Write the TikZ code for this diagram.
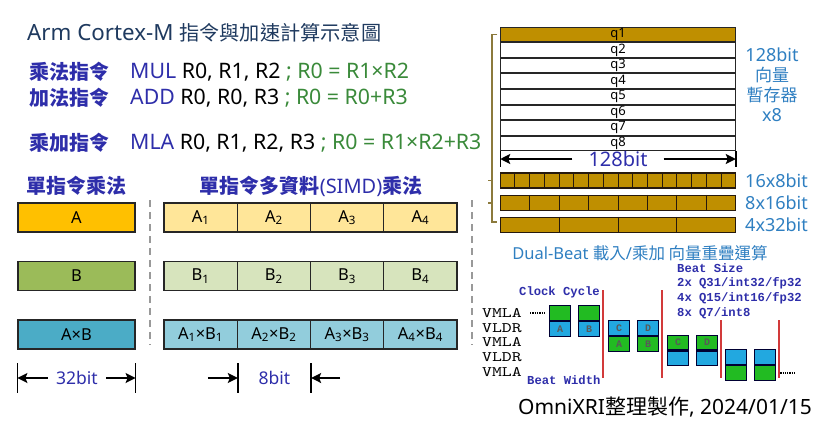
\documentclass[tikz,border=0pt]{standalone}
\usepackage{fontspec}
\setmainfont{Noto Sans}
\newfontfamily\cjk{Noto Sans CJK TC}
\newfontfamily\beatfont{Liberation Mono}
\newfontfamily\opfont{lmmono10-regular.otf}[FakeStretch=1.3]
\usetikzlibrary{positioning,arrows.meta,calc}

\definecolor{titleblue}{HTML}{1F3A5F}
\definecolor{opblue}{HTML}{2E2EAA}
\definecolor{eqgreen}{HTML}{3A8A3A}
\definecolor{steel}{HTML}{2F7FC1}
\definecolor{goldA}{HTML}{FFC000}
\definecolor{oliveB}{HTML}{9BBB59}
\definecolor{tealC}{HTML}{4BACC6}
\definecolor{lightA}{HTML}{FFE699}
\definecolor{lightB}{HTML}{D7E4BD}
\definecolor{lightC}{HTML}{92CDDC}
\definecolor{regfill}{HTML}{BF8F00}
\definecolor{bracketc}{HTML}{8C7A3C}
\definecolor{beatgreen}{HTML}{22BB22}
\definecolor{beatblue}{HTML}{22A8E0}
\definecolor{cyclered}{HTML}{D23A3A}

\begin{document}
\begin{tikzpicture}[x=1pt, y=-1pt,
  txt/.style={inner sep=0pt, anchor=west, font=\fontsize{21.3}{24}\selectfont},
  oplbl/.style={inner sep=0pt, anchor=west, text=opblue, font=\cjk\fontsize{20}{24}\selectfont\bfseries},
  head/.style={inner sep=0pt, text=opblue, font=\fontsize{20}{24}\selectfont\bfseries},
  cell/.style={draw=black!85, line width=1.2pt, inner sep=0pt, minimum height=29pt,
    font=\fontsize{16.5}{20}\selectfont},
  sep/.style={draw=black!40, line width=1.5pt, dash pattern=on 7pt off 5pt},
  tickl/.style={line width=1.5pt, black},
  dimarr/.style={-{Stealth[length=10pt, width=10pt, inset=2pt]}, line width=1.6pt, black},
  bitlbl/.style={inner sep=0pt, text=opblue, font=\fontsize{17.5}{22}\selectfont},
  qreg/.style={draw=black!85, line width=1pt, inner sep=0pt, minimum width=234.5pt,
    minimum height=14.6pt, font=\fontsize{13}{13}\selectfont},
  bar/.style={draw=black!80!brown, line width=1.2pt, fill=regfill, inner sep=0pt,
    minimum width=234.5pt, minimum height=15pt},
  barline/.style={draw=black!80!brown, line width=1pt},
  steellbl/.style={inner sep=0pt, text=steel, font=\fontsize{18}{22}\selectfont},
  beatcell/.style={draw=black!80!blue, line width=1.2pt, inner sep=0pt, minimum width=21pt,
    minimum height=14.7pt, text=black!65, font=\beatfont\fontsize{10}{10}\selectfont\bfseries},
  beatlbl/.style={inner sep=0pt, anchor=west, text=opblue,
    font=\beatfont\fontsize{12.2}{13}\selectfont\bfseries},
  opname/.style={inner sep=0pt, anchor=west, font=\opfont\fontsize{14.5}{14.5}\selectfont},
  clockline/.style={draw=cyclered, line width=1.5pt},
  dots/.style={line width=1.3pt, densely dotted}]
\useasboundingbox (0,0) rectangle (838,429);

% title and instructions
\node[inner sep=0pt, anchor=west, text=titleblue, font=\fontsize{22.3}{24}\selectfont] (title)
  at (27,33) {Arm Cortex-M {\cjk\fontsize{20.2}{24}\selectfont 指令與加速計算示意圖}};
\node[oplbl] (mulop) at (29,72) {乘法指令};
\node[txt] (mulcode) at (130,72) {\textcolor{opblue}{MUL} R0, R1, R2 \textcolor{eqgreen}{; R0 = R1×R2}};
\node[oplbl] (addop) at (29,98) {加法指令};
\node[txt] (addcode) at (130,98) {\textcolor{opblue}{ADD} R0, R0, R3 \textcolor{eqgreen}{; R0 = R0+R3}};
\node[oplbl] (mlaop) at (29,143) {乘加指令};
\node[txt] (mlacode) at (130,143) {\textcolor{opblue}{MLA} R0, R1, R2, R3 \textcolor{eqgreen}{; R0 = R1×R2+R3}};

% single multiply vs SIMD
\node[head] (h1) at (77,186) {\cjk 單指令乘法};
\node[head] (h2) at (311,186) {{\cjk 單指令多資料}(SIMD){\cjk 乘法}};
\node[cell, fill=goldA, minimum width=117pt] (a0) at (76.5,217.5) {A};
\node[cell, fill=oliveB, minimum width=117pt] (b0) at (76.5,276) {B};
\node[cell, fill=tealC, minimum width=117pt] (c0) at (76.5,334.5) {A×B};
\foreach \i/\cx in {1/200.6,2/273.9,3/347.1,4/420.4} {
  \node[cell, fill=lightA, minimum width=73.25pt] (a\i) at (\cx,217.5) {A\textsubscript{\i}};
  \node[cell, fill=lightB, minimum width=73.25pt] (b\i) at (\cx,276) {B\textsubscript{\i}};
  \node[cell, fill=lightC, minimum width=73.25pt] (c\i) at (\cx,334.5)
    {A\textsubscript{\i}×B\textsubscript{\i}};
}
\draw[sep] (150,200) -- (150,345);
\draw[sep] (472,200) -- (472,345);

% bit widths
\node[bitlbl] (w32) at (77,378) {32bit};
\node[bitlbl] (w8) at (274.5,378) {8bit};
\coordinate (t32l) at (a0.west |- w32);
\coordinate (t32r) at (a0.east |- w32);
\coordinate (t8l) at (a1.east |- w8);
\coordinate (t8r) at (a2.east |- w8);
\foreach \t in {t32l,t32r,t8l,t8r}
  \draw[tickl] ([yshift=15pt]\t) -- ([yshift=-15pt]\t);
\draw[dimarr] ([xshift=-8pt]w32.west) -- (t32l);
\draw[dimarr] ([xshift=8pt]w32.east) -- (t32r);
\draw[dimarr] ([xshift=-30pt]t8l) -- (t8l);
\draw[dimarr] ([xshift=29pt]t8r) -- (t8r);

% vector registers
\node[qreg, fill=regfill] (q1) at (618,34.3) {q1};
\foreach \i in {2,...,8}
  \node[qreg, below=0pt of q\the\numexpr\i-1\relax] (q\i) {q\i};
\node[bitlbl, font=\fontsize{20}{24}\selectfont] (w128) at (618,159) {128bit};
\coordinate (t128l) at (q8.west |- w128);
\coordinate (t128r) at (q8.east |- w128);
\foreach \t in {t128l,t128r}
  \draw[tickl] ([yshift=8pt]\t) -- ([yshift=-8pt]\t);
\draw[dimarr] ([xshift=-16pt]w128.west) -- (t128l);
\draw[dimarr] ([xshift=16pt]w128.east) -- (t128r);
\node[steellbl] (r1) at (772,55) {128bit};
\node[steellbl, font=\cjk\fontsize{17}{20}\selectfont] (r2) at (772,75) {向量};
\node[steellbl, font=\cjk\fontsize{17}{20}\selectfont] (r3) at (772,95) {暫存器};
\node[steellbl] (r4) at (772,115) {x8};

\node[bar] (b16) at (618,180.5) {};
\node[bar] (b8) at (618,203) {};
\node[bar] (b4) at (618,225) {};
\foreach \k in {1,...,15}
  \draw[barline] ($(b16.north west)!\k/16!(b16.north east)$) -- ($(b16.south west)!\k/16!(b16.south east)$);
\foreach \k in {1,...,7}
  \draw[barline] ($(b8.north west)!\k/8!(b8.north east)$) -- ($(b8.south west)!\k/8!(b8.south east)$);
\foreach \k in {1,...,3}
  \draw[barline] ($(b4.north west)!\k/4!(b4.north east)$) -- ($(b4.south west)!\k/4!(b4.south east)$);
\node[steellbl, anchor=west] (l16) at (745,181) {16x8bit};
\node[steellbl, anchor=west] (l8) at (745,203) {8x16bit};
\node[steellbl, anchor=west] (l4) at (745,225) {4x32bit};
\draw[bracketc, line width=1.5pt] ([xshift=-3pt]q1.west) -| (492,222) -- ([xshift=-3pt]b4.west |- 0,222);
\draw[bracketc, line width=1.5pt] (488,180.5) -- (492,180.5) (488,203) -- (492,203);

% dual-beat overlap
\node[inner sep=0pt, text=steel, font=\fontsize{16.5}{20}\selectfont] (dual) at (640,253)
  {Dual-Beat {\cjk 載入}/{\cjk 乘加 向量重疊運算}};
\node[beatlbl] (bsize) at (677,268) {Beat Size};
\node[beatlbl] (bs1) at (677,283) {2x Q31/int32/fp32};
\node[beatlbl] (bs2) at (677,298) {4x Q15/int16/fp32};
\node[beatlbl] (bs3) at (677,313) {8x Q7/int8};
\node[beatlbl] (clk) at (519,292) {Clock Cycle};
\node[beatlbl] (bw) at (527,380) {Beat Width};
\foreach \j/\op in {1/VMLA,2/VLDR,3/VMLA,4/VLDR,5/VMLA}
  \node[opname] (op\j) at (482,{313+14.7*(\j-1)}) {\op};
\foreach \n/\bx/\by/\tc/\tl/\bc/\bl in {1/549/305/beatgreen/{}/beatblue/A,
    2/578/305/beatgreen/{}/beatblue/B, 3/608/320/beatblue/C/beatgreen/A,
    4/637/320/beatblue/D/beatgreen/B, 5/667/334.5/beatgreen/C/beatblue/{},
    6/696/334.5/beatgreen/D/beatblue/{}, 7/725/349/beatblue/{}/beatgreen/{},
    8/754/349/beatblue/{}/beatgreen/{}} {
  \node[beatcell, fill=\tc, anchor=north west] (bt\n) at (\bx,\by) {\tl};
  \node[beatcell, fill=\bc, anchor=north] (bb\n) at (bt\n.south) {\bl};
}
\draw[clockline] (603,290) -- (603,378);
\draw[clockline] (662,290) -- (662,378);
\draw[clockline] (721,320) -- (721,378);
\draw[clockline] (779,320) -- (779,378);
\draw[dots] ([xshift=-19pt]bt1.west) -- ([xshift=-3pt]bt1.west);
\draw[dots] ([xshift=4pt]bb8.east) -- ([xshift=20pt]bb8.east);

\node[inner sep=0pt, font=\fontsize{21}{24}\selectfont] (credit) at (665,407)
  {OmniXRI{\cjk 整理製作}, 2024/01/15};
\end{tikzpicture}
\end{document}
